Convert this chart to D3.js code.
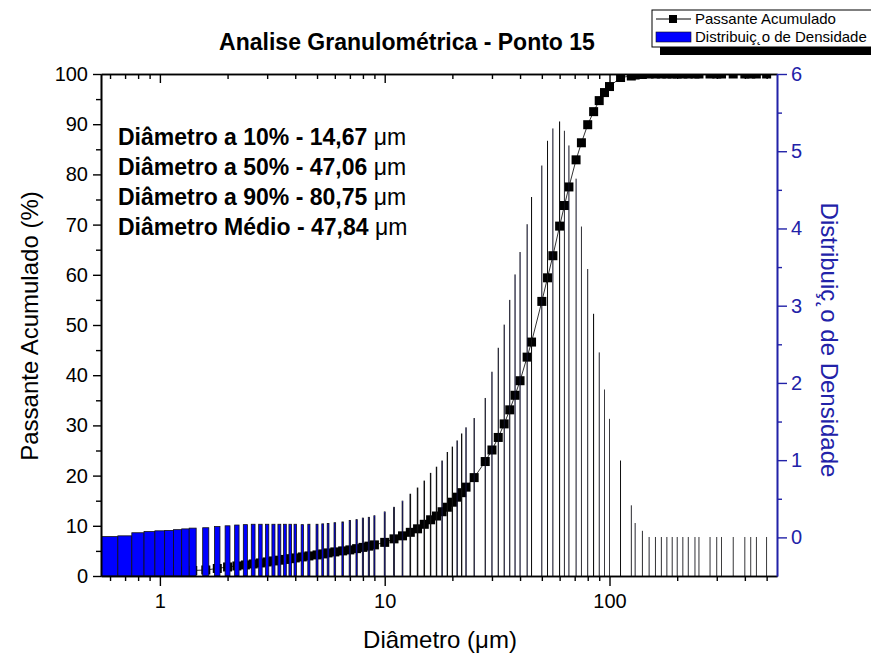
<!DOCTYPE html>
<html>
<head>
<meta charset="utf-8">
<script src="https://cdn.jsdelivr.net/npm/d3@7.9.0/dist/d3.min.js"></script>
<style>
  body { margin: 0; background: #fff; }
  svg { display: block; font-family: "Liberation Sans", Arial, sans-serif; }
</style>
</head>
<body>
<svg width="871" height="656"></svg>
<script>
// classes de diametro (um)
const diametros = [0.6, 0.7, 0.8, 0.9, 1.0, 1.1, 1.2, 1.3, 1.4,
  1.6, 1.8, 2.0, 2.2, 2.4, 2.6, 2.8, 3.0, 3.2, 3.4, 3.6, 3.8, 4.0,
  4.3, 4.6, 5.0, 5.3, 5.6, 6.0, 6.5, 7.0, 7.5, 8.0, 8.5, 9.0,
  10, 11, 12, 13, 14, 15, 16, 17, 18, 19, 20, 21, 22, 23,
  25, 28, 30, 32, 34, 36, 38, 40, 43, 45,
  50, 53, 56, 60, 63, 66, 71, 75, 80, 85, 90, 95, 100,
  112, 125, 130, 140, 150, 160, 170, 180, 190, 200, 212, 224, 240, 250, 280, 300, 315, 355, 400, 425, 450, 500];

// passante acumulado (%)
const passante = [0.3, 0.4, 0.5, 0.6, 0.7, 0.8, 0.9, 1.0, 1.1,
  1.2, 1.5, 1.8, 2.0, 2.2, 2.4, 2.6, 2.8, 3.0, 3.15, 3.3, 3.45, 3.6,
  3.8, 4.0, 4.2, 4.4, 4.6, 4.8, 5.0, 5.2, 5.45, 5.7, 5.95, 6.2,
  6.7, 7.4, 8.0, 8.7, 9.4, 10.3, 11.2, 11.95, 12.8, 13.7, 14.7, 15.7, 16.6, 17.7,
  19.6, 22.8, 25.1, 27.6, 30.3, 33.1, 36.0, 38.9, 43.6, 46.6,
  54.7, 59.4, 63.8, 69.7, 73.8, 77.5, 82.9, 86.3, 89.9, 92.5, 94.7, 96.3, 97.5,
  99.3, 99.6, 99.8, 99.9, 100, 100, 100, 100, 100, 100, 100, 100, 100, 100, 100, 100, 100, 100, 100, 100, 100, 100];

// distribuicao de densidade
const densidade = [0.01, 0.02, 0.06, 0.075, 0.085, 0.09, 0.10, 0.11, 0.12,
  0.125, 0.14, 0.15, 0.16, 0.165, 0.17, 0.17, 0.17, 0.17, 0.17, 0.17, 0.17, 0.17,
  0.165, 0.17, 0.17, 0.175, 0.18, 0.19, 0.20, 0.22, 0.23, 0.25, 0.26, 0.28,
  0.33, 0.39, 0.47, 0.56, 0.64, 0.73, 0.83, 0.91, 0.99, 1.10, 1.17, 1.25, 1.34, 1.42,
  1.54, 1.80, 2.14, 2.45, 2.75, 3.07, 3.40, 3.69, 4.05, 4.40,
  4.81, 5.13, 5.29, 5.38, 5.26, 5.07, 4.64, 4.02, 3.47, 2.89, 2.39, 1.91, 1.53,
  0.99, 0.41, 0.18, 0.08, 0, 0, 0, 0, 0, 0, 0, 0, 0, 0, 0, 0, 0, 0, 0, 0, 0, 0];

const ticksEsquerda = [0, 10, 20, 30, 40, 50, 60, 70, 80, 90, 100];
const ticksDireita = [0, 1, 2, 3, 4, 5, 6];
const ticksX = [1, 10, 100];
const ticksXMenores = [0.6, 0.7, 0.8, 0.9, 2, 3, 4, 5, 6, 7, 8, 9, 20, 30, 40, 50, 60, 70, 80, 90, 200, 300, 400, 500];

const anotacoes = [
  ['Diâmetro a 10% - 14,67 ', 'μm'],
  ['Diâmetro a 50% - 47,06 ', 'μm'],
  ['Diâmetro a 90% - 80,75 ', 'μm'],
  ['Diâmetro Médio - 47,84 ', 'μm']
];

const azulEixo = '#2222a8';
const larguraColuna = 0.1;

let svg = d3.select('svg');

let x = d3.scaleLog().domain([0.547, 556]).range([101, 777]);
let yL = d3.scaleLinear().domain([0, 100]).range([576, 74]);
let yR = d3.scaleLinear().domain([-0.5, 6]).range([576, 74]);

svg.append('defs').append('clipPath').attr('id', 'area')
  .append('rect').attr('x', 101).attr('y', 74).attr('width', 676).attr('height', 502);

let plot = svg.append('g').attr('clip-path', 'url(#area)');

// passante acumulado: linha + quadrados
let pontos = diametros.map((d, i) => ({ d: d, p: passante[i], q: densidade[i] }));

plot.append('path')
  .datum(pontos)
  .attr('fill', 'none')
  .attr('stroke', '#333')
  .attr('stroke-width', 1)
  .attr('d', d3.line().x((p) => x(p.d)).y((p) => yL(p.p)));

plot.selectAll('rect.quad')
  .data(pontos)
  .join('rect')
  .attr('class', 'quad')
  .attr('x', (p) => x(p.d) - 4.5)
  .attr('y', (p) => yL(p.p) - 4.5)
  .attr('width', 9)
  .attr('height', 9)
  .attr('fill', '#000');

// colunas de densidade (largura fixa em um, por isso afinam na escala log)
plot.selectAll('rect.col')
  .data(pontos)
  .join('rect')
  .attr('class', 'col')
  .attr('x', (p) => x(p.d - larguraColuna / 2))
  .attr('y', (p) => yR(p.q))
  .attr('width', (p) => x(p.d + larguraColuna / 2) - x(p.d - larguraColuna / 2))
  .attr('height', (p) => yR(-0.5) - yR(p.q))
  .attr('fill', '#0000ff')
  .attr('stroke', '#111')
  .attr('stroke-width', 0.8);

// eixos
function estilo(g, cor) {
  g.selectAll('path').attr('stroke', cor).attr('stroke-width', 1.6);
  g.selectAll('line').attr('stroke', cor).attr('stroke-width', 1.4);
  g.selectAll('text').attr('fill', cor).attr('font-size', 20)
    .attr('font-family', '"Liberation Sans", Arial, sans-serif');
}

svg.append('g').attr('transform', 'translate(101,0)')
  .call(d3.axisLeft(yL).tickValues(d3.range(5, 100, 10)).tickSize(5).tickSizeOuter(0).tickFormat(''))
  .call((g) => estilo(g, '#000'));
svg.append('g').attr('transform', 'translate(101,0)')
  .call(d3.axisLeft(yL).tickValues(ticksEsquerda).tickSize(8).tickSizeOuter(0).tickPadding(5))
  .call((g) => estilo(g, '#000'));

svg.append('g').attr('transform', 'translate(0,576)')
  .call(d3.axisBottom(x).tickValues(ticksXMenores).tickSize(5).tickSizeOuter(0).tickFormat(''))
  .call((g) => estilo(g, '#000'));
svg.append('g').attr('transform', 'translate(0,576)')
  .call(d3.axisBottom(x).tickValues(ticksX).tickSize(10).tickSizeOuter(0).tickPadding(8).tickFormat(d3.format('d')))
  .call((g) => estilo(g, '#000'));

svg.append('g').attr('transform', 'translate(0,74)')
  .call(d3.axisTop(x).tickValues(ticksXMenores).tickSize(-5).tickSizeOuter(0).tickFormat(''))
  .call((g) => estilo(g, '#000'));
svg.append('g').attr('transform', 'translate(0,74)')
  .call(d3.axisTop(x).tickValues(ticksX).tickSize(-9).tickSizeOuter(0).tickFormat(''))
  .call((g) => estilo(g, '#000'));

svg.append('g').attr('transform', 'translate(777,0)')
  .call(d3.axisRight(yR).tickValues(d3.range(0.5, 6, 1)).tickSize(5).tickSizeOuter(0).tickFormat(''))
  .call((g) => estilo(g, azulEixo));
svg.append('g').attr('transform', 'translate(777,0)')
  .call(d3.axisRight(yR).tickValues(ticksDireita).tickSize(10).tickSizeOuter(0).tickPadding(4).tickFormat(d3.format('d')))
  .call((g) => estilo(g, azulEixo));

// titulos
svg.append('text')
  .attr('x', 407).attr('y', 50)
  .attr('text-anchor', 'middle')
  .attr('font-size', 23).attr('font-weight', 'bold')
  .text('Analise Granulométrica - Ponto 15');

svg.append('text')
  .attr('x', 440).attr('y', 648)
  .attr('text-anchor', 'middle')
  .attr('font-size', 24)
  .text('Diâmetro (μm)');

svg.append('text')
  .attr('transform', 'translate(38,326) rotate(-90)')
  .attr('text-anchor', 'middle')
  .attr('font-size', 24)
  .text('Passante Acumulado (%)');

svg.append('text')
  .attr('transform', 'translate(821,340) rotate(90)')
  .attr('text-anchor', 'middle')
  .attr('font-size', 24)
  .attr('fill', azulEixo)
  .text('Distribuiç˛o de Densidade');

// anotacoes
anotacoes.forEach((a, i) => {
  let t = svg.append('text')
    .attr('x', 118).attr('y', 145 + i * 30)
    .attr('font-size', 23);
  t.append('tspan').attr('font-weight', 'bold').text(a[0]);
  t.append('tspan').text(a[1]);
});

// legenda
let leg = svg.append('g');
leg.append('rect').attr('x', 660).attr('y', 18).attr('width', 240).attr('height', 37).attr('fill', '#000');
leg.append('rect').attr('x', 652).attr('y', 10).attr('width', 240).attr('height', 37)
  .attr('fill', '#fff').attr('stroke', '#000').attr('stroke-width', 1);
leg.append('line').attr('x1', 656).attr('x2', 691).attr('y1', 19).attr('y2', 19)
  .attr('stroke', '#000').attr('stroke-width', 1);
leg.append('rect').attr('x', 669).attr('y', 15).attr('width', 8).attr('height', 8).attr('fill', '#000');
leg.append('text').attr('x', 695).attr('y', 24).attr('font-size', 15).text('Passante Acumulado');
leg.append('rect').attr('x', 656).attr('y', 32).attr('width', 35).attr('height', 10)
  .attr('fill', '#0000ff').attr('stroke', '#111').attr('stroke-width', 0.6);
leg.append('text').attr('x', 695).attr('y', 42).attr('font-size', 15).text('Distribuiç˛o de Densidade');
</script>
</body>
</html>
